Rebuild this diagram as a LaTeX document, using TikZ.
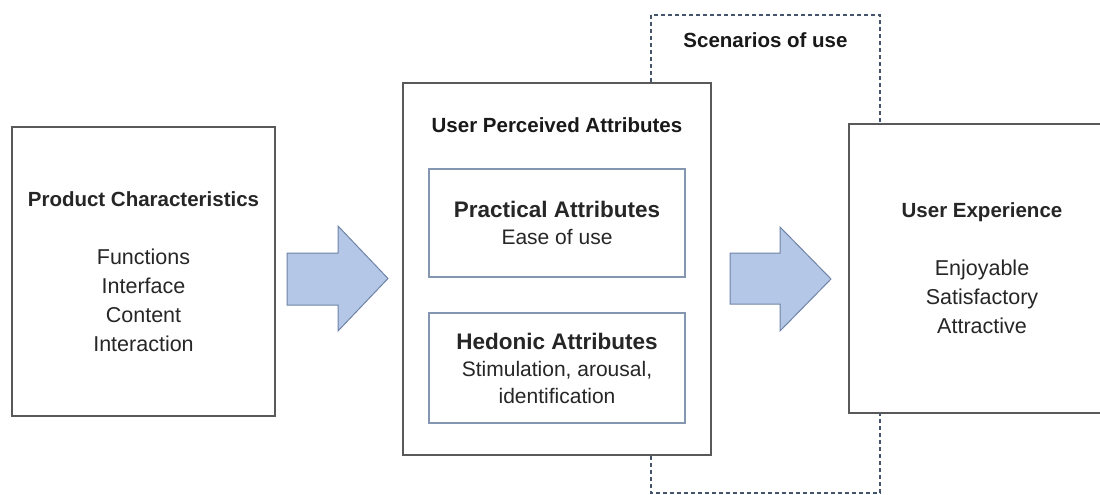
\documentclass[tikz,border=0pt]{standalone}
\usepackage{fontspec}
\setmainfont{Liberation Sans}
\usetikzlibrary{positioning}
\definecolor{boxgray}{HTML}{595959}
\definecolor{innerblue}{HTML}{8496B0}
\definecolor{arrowfill}{HTML}{B4C7E7}
\definecolor{arrowline}{HTML}{6F83A6}
\definecolor{dashblue}{HTML}{44546A}

\begin{document}
\begin{tikzpicture}[x=1pt, y=-1pt,
    outer/.style={draw=boxgray, line width=1.6pt, fill=white, inner sep=0pt, align=center, text=black!85, font=\fontsize{21.5}{29}\selectfont},
    inner/.style={draw=innerblue, line width=1.3pt, fill=white, inner sep=0pt, minimum width=256pt, align=center, text=black!85, font=\fontsize{21}{27}\selectfont},
    heading/.style={font=\fontsize{20.5}{29}\selectfont\bfseries, text=black!90},
    blockarrow/.style={draw=arrowline, line width=1pt, fill=arrowfill, line join=miter}]
    \useasboundingbox (0,0) rectangle (1100,495);
    \clip (0,0) rectangle (1100,495);

    % scenarios of use
    \draw[dashblue, line width=1.3pt, dash pattern=on 4pt off 3pt] (651,15) rectangle (880,493);
    \node[heading] (scenarios) at (765.5,40) {Scenarios of use};

    \node[outer, minimum width=263pt, minimum height=289pt] (prod_char) at (143.5,271.5)
        {{\bfseries\fontsize{20.5}{29}\selectfont Product Characteristics}\\[29pt] Functions\\ Interface\\ Content\\ Interaction};

    \node[outer, minimum width=308pt, minimum height=372pt] (user_attr) at (557,269) {};
    \node[heading] (user_attr_title) at (557,125) {User Perceived Attributes};
    \node[inner, minimum height=108pt] (practical) at (557,223)
        {{\bfseries\fontsize{22.5}{27}\selectfont Practical Attributes}\\ Ease of use};
    \node[inner, minimum height=110pt] (hedonic) at (557,368)
        {{\bfseries\fontsize{22.5}{27}\selectfont Hedonic Attributes}\\ Stimulation, arousal,\\ identification};

    \node[outer, minimum width=266pt, minimum height=289pt] (user_exp) at (982,268.5)
        {{\bfseries\fontsize{20.5}{29}\selectfont User Experience}\\[29pt] Enjoyable\\ Satisfactory\\ Attractive};

    % block arrows
    \draw[blockarrow] (287,253) -- ++(51,0) -- ++(0,-27) -- (388,278.5) -- (338,331) -- ++(0,-26) -- (287,305) -- cycle;
    \draw[blockarrow] (730,253) -- ++(50,0) -- ++(0,-26) -- (831,279) -- (780,331) -- ++(0,-27) -- (730,304) -- cycle;

\end{tikzpicture}
\end{document}
